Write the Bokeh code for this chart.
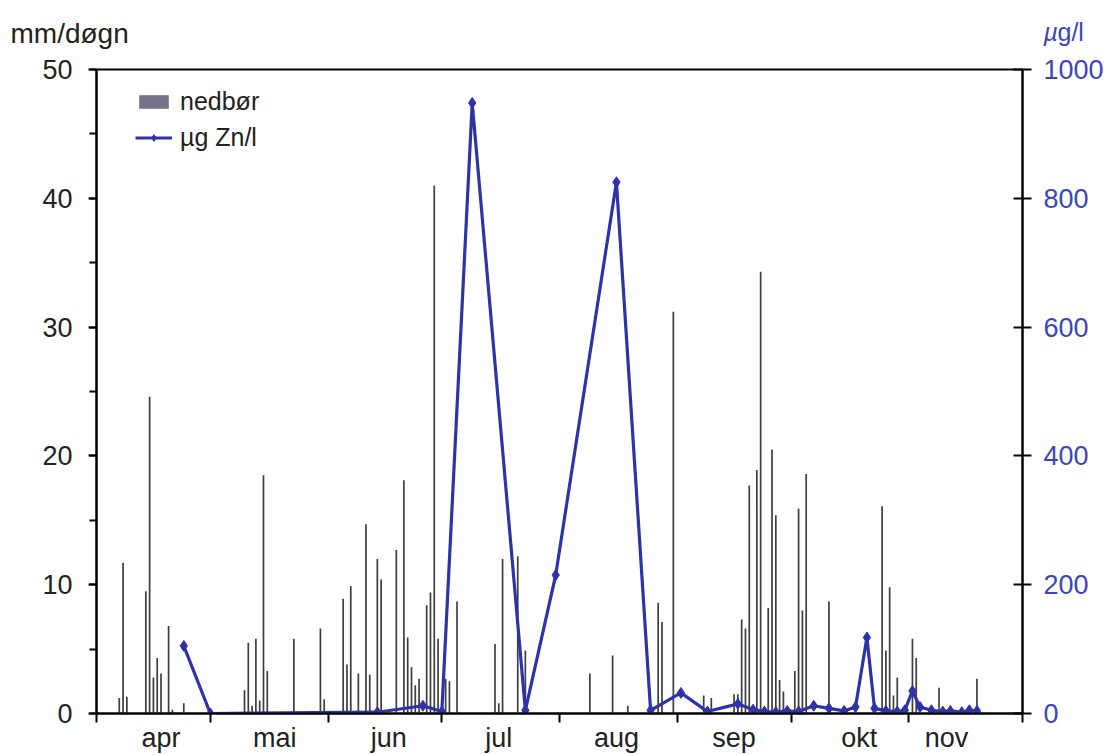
from bokeh.plotting import figure
from bokeh.layouts import column
from bokeh.models import (Range1d, LinearAxis, SingleIntervalTicker, FixedTicker,
                          Legend, LegendItem, ColumnDataSource)
from bokeh.core.properties import value
from bokeh.embed import file_html
from bokeh.resources import INLINE

# ---- data (day index counted from 1 April) ----
month_names = ["apr", "mai", "jun", "jul", "aug", "sep", "okt", "nov"]
month_starts = [0, 30, 61, 91, 122, 153, 183, 214, 244]
month_label_pos = [17, 47, 77, 106, 137, 168, 201, 224]

rain_day = [6, 7, 8, 13, 14, 15, 16, 17, 19, 20, 23,
            39, 40, 41, 42, 43, 44, 45, 52,
            59, 60, 65, 66, 67, 69, 71, 72, 74, 75, 79, 81, 82, 83, 84, 85,
            87, 88, 89, 90, 92, 93, 95,
            105, 106, 107, 111, 113,
            130, 136, 140, 148, 149, 152,
            160, 162, 168, 169, 170, 171, 172, 174, 175, 177, 178, 179, 180, 181,
            184, 185, 186, 187, 193,
            207, 208, 209, 210, 211, 215, 216, 222, 232]
rain_mm = [1.2, 11.7, 1.3, 9.5, 24.6, 2.8, 4.3, 3.1, 6.8, 0.3, 0.8,
           1.8, 5.5, 0.6, 5.8, 1.0, 18.5, 3.3, 5.8,
           6.6, 1.1, 8.9, 3.8, 9.9, 3.1, 14.7, 3.0, 12.0, 10.4, 12.7, 18.1, 5.9, 3.6, 2.2, 2.7,
           8.4, 9.4, 41.0, 5.8, 2.7, 2.5, 8.7,
           5.4, 0.8, 12.0, 12.2, 4.9,
           3.1, 4.5, 0.6, 8.6, 7.1, 31.2,
           1.4, 1.2, 1.5, 1.5, 7.3, 6.6, 17.7, 18.9, 34.3, 8.2, 20.5, 15.4, 2.6, 1.7,
           3.3, 15.9, 8.0, 18.6, 8.7,
           16.1, 4.9, 9.8, 1.4, 2.8, 5.8, 4.3, 2.0, 2.7]

zn_day = [23, 30, 74, 86, 91, 99, 113, 121, 137, 146, 154, 161, 169,
          173, 176, 179, 182, 185, 189, 193, 197, 200, 203, 205, 208, 211,
          213, 215, 217, 220, 223, 225, 228, 230, 232]
zn_ugl = [105, 0, 2, 12, 3, 948, 5, 215, 825, 5, 32, 3, 15,
          6, 3, 2, 4, 3, 12, 8, 4, 10, 118, 8, 4, 3,
          5, 35, 10, 5, 3, 4, 2, 5, 4]

FONT = "Liberation Sans"
BLUE = "#2e33a8"
LABEL_BLUE = "#3a46c0"
TXT = "#222222"
TICK_FS = "27px"
W = 1113
HEAD_H = 50
MAIN_H = 705

# ---- header strip carrying the axis unit texts ----
head = figure(width=W, height=HEAD_H, x_range=Range1d(0, W), y_range=Range1d(HEAD_H, 0),
              output_backend="svg", toolbar_location=None,
              min_border=0, min_border_left=0, min_border_right=0,
              min_border_top=0, min_border_bottom=0)
try:
    head.frame_align = False
except Exception:
    pass
head.axis.visible = False
head.grid.visible = False
head.outline_line_color = None
head.background_fill_color = "white"
head.border_fill_color = "white"
head.text(x=[10], y=[33], text=["mm/døgn"], text_font=value(FONT), text_font_size="28px",
          text_color=TXT, text_baseline="middle", text_align="left")
head.text(x=[1043], y=[31], text=["µ"], text_font=value(FONT), text_font_size="25px",
          text_font_style="italic", text_color=LABEL_BLUE, text_baseline="middle", text_align="left")
head.text(x=[1057], y=[31], text=["g/l"], text_font=value(FONT), text_font_size="25px",
          text_color=LABEL_BLUE, text_baseline="middle", text_align="left")

# ---- main chart ----
p = figure(width=W, height=MAIN_H, x_range=Range1d(0, 244), y_range=Range1d(0, 50),
           output_backend="svg", toolbar_location=None,
           min_border_left=96, min_border_right=91, min_border_top=69 - HEAD_H,
           min_border_bottom=42)
try:
    p.frame_align = False
except Exception:
    pass
p.background_fill_color = "white"
p.border_fill_color = "white"
p.outline_line_color = "black"
p.outline_line_width = 2
p.xgrid.visible = False
p.ygrid.visible = False
p.extra_y_ranges = {"zn": Range1d(0, 1000)}

# bars
rain_src = ColumnDataSource(dict(day=rain_day, mm=rain_mm))
bars = p.vbar(x="day", top="mm", bottom=0, width=0.45, source=rain_src,
              fill_color="#3f3f3f", line_color=None)

# hidden twin used only for the legend swatch colour
ghost = p.vbar(x="day", top="mm", bottom=0, width=0.45, source=rain_src,
               fill_color="#77718c", line_color=None, visible=False)

# Zn line
zn_src = ColumnDataSource(dict(day=zn_day, zn=zn_ugl))
zl = p.line(x="day", y="zn", source=zn_src, y_range_name="zn", line_color=BLUE, line_width=3.2)
zs = p.scatter(x="day", y="zn", source=zn_src, y_range_name="zn", marker="diamond",
               size=11, fill_color=BLUE, line_color=BLUE)

# left axis
ya = p.yaxis[0]
ya.ticker = SingleIntervalTicker(interval=10, num_minor_ticks=2)
ya.axis_line_width = 2
ya.major_tick_line_width = 2
ya.minor_tick_line_width = 2
ya.major_tick_out = 8
ya.major_tick_in = 0
ya.minor_tick_out = 7
ya.minor_tick_in = 0
ya.major_label_text_font = FONT
ya.major_label_text_font_size = TICK_FS
ya.major_label_text_color = TXT
ya.major_label_standoff = 16

# right axis
ra = LinearAxis(y_range_name="zn", ticker=SingleIntervalTicker(interval=200, num_minor_ticks=0))
ra.axis_line_width = 2
ra.major_tick_line_width = 2
ra.major_tick_in = 9
ra.major_tick_out = 9
ra.minor_tick_line_color = None
ra.major_label_text_font = FONT
ra.major_label_text_font_size = TICK_FS
ra.major_label_text_color = LABEL_BLUE
ra.major_label_standoff = 12
p.add_layout(ra, "right")

# bottom axis: month boundaries as (minor) ticks, month names as major labels
xa = p.xaxis[0]
xa.ticker = FixedTicker(ticks=month_label_pos, minor_ticks=month_starts)
xa.major_label_overrides = {m: n for m, n in zip(month_label_pos, month_names)}
xa.axis_line_width = 2
xa.major_tick_in = 0
xa.major_tick_out = 0
xa.minor_tick_in = 0
xa.minor_tick_out = 9
xa.minor_tick_line_width = 2
xa.major_label_text_font = FONT
xa.major_label_text_font_size = TICK_FS
xa.major_label_text_color = TXT
xa.major_label_standoff = 0

# legend
leg = Legend(items=[LegendItem(label="nedbør", renderers=[ghost]),
                    LegendItem(label="µg Zn/l", renderers=[zl, zs])],
             location=(39, 561), orientation="vertical",
             background_fill_alpha=0, border_line_color=None,
             padding=0, margin=0, spacing=7, inactive_fill_alpha=0,
             glyph_width=37, glyph_height=17, label_height=28, label_standoff=8,
             label_text_font=FONT, label_text_font_size="25px", label_text_color=TXT)
p.add_layout(leg)

layout = column(head, p, spacing=0)
open("out.html", "w").write(file_html(layout, INLINE))
